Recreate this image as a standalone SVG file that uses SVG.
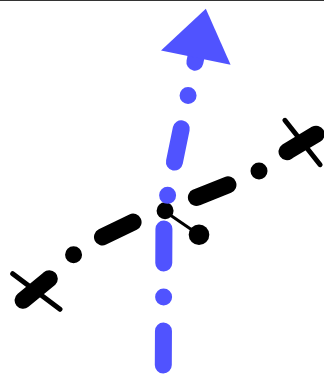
<svg xmlns="http://www.w3.org/2000/svg" width="324" height="374" viewBox="0 0 324 374">
<style>
.dd{fill:none;stroke-width:17;stroke-linecap:round;stroke-linejoin:round;stroke-dasharray:34 34 0 34}
.blk{stroke:#000}
.blu{stroke:#5053ff}
.thin{fill:none;stroke:#000;stroke-width:5;stroke-linecap:round}
</style>
<defs>
<marker id="tri" markerUnits="userSpaceOnUse" orient="auto" refX="0" refY="0" markerWidth="60" markerHeight="80" viewBox="0 -40 60 80" overflow="visible">
<path d="M0,-35.5 L50,0 L0,35.5 Z" fill="#5053ff"/>
</marker>
</defs>
<rect x="0" y="0" width="324" height="1" fill="#333"/>
<g id="connectors">
<path id="black-line" class="dd blk" d="M23.1,300.3 L49.3,278.7 L73.3,255 L101.7,237.3 L134,221.7 L164.3,211 L196.7,197.3 L230,184 L260,170.5 L288.4,150.7 L317.6,133.3"/>
<path id="blue-arrow" class="dd blu" d="M163.3,365 L164,213 L195.8,57.7" marker-end="url(#tri)"/>
<line id="handle-line" x1="164.3" y1="211" x2="199" y2="234.7" stroke="#000" stroke-width="3"/>
</g>
<g id="end-bl">
<line class="thin" x1="12.7" y1="273.7" x2="60" y2="309.3"/>
</g>
<g id="end-tr">
<line class="thin" x1="284.9" y1="120.3" x2="320.1" y2="164.7"/>
</g>
<g id="handle-point">
<circle cx="199" cy="234.7" r="10.3" fill="#000"/>
</g>
</svg>
